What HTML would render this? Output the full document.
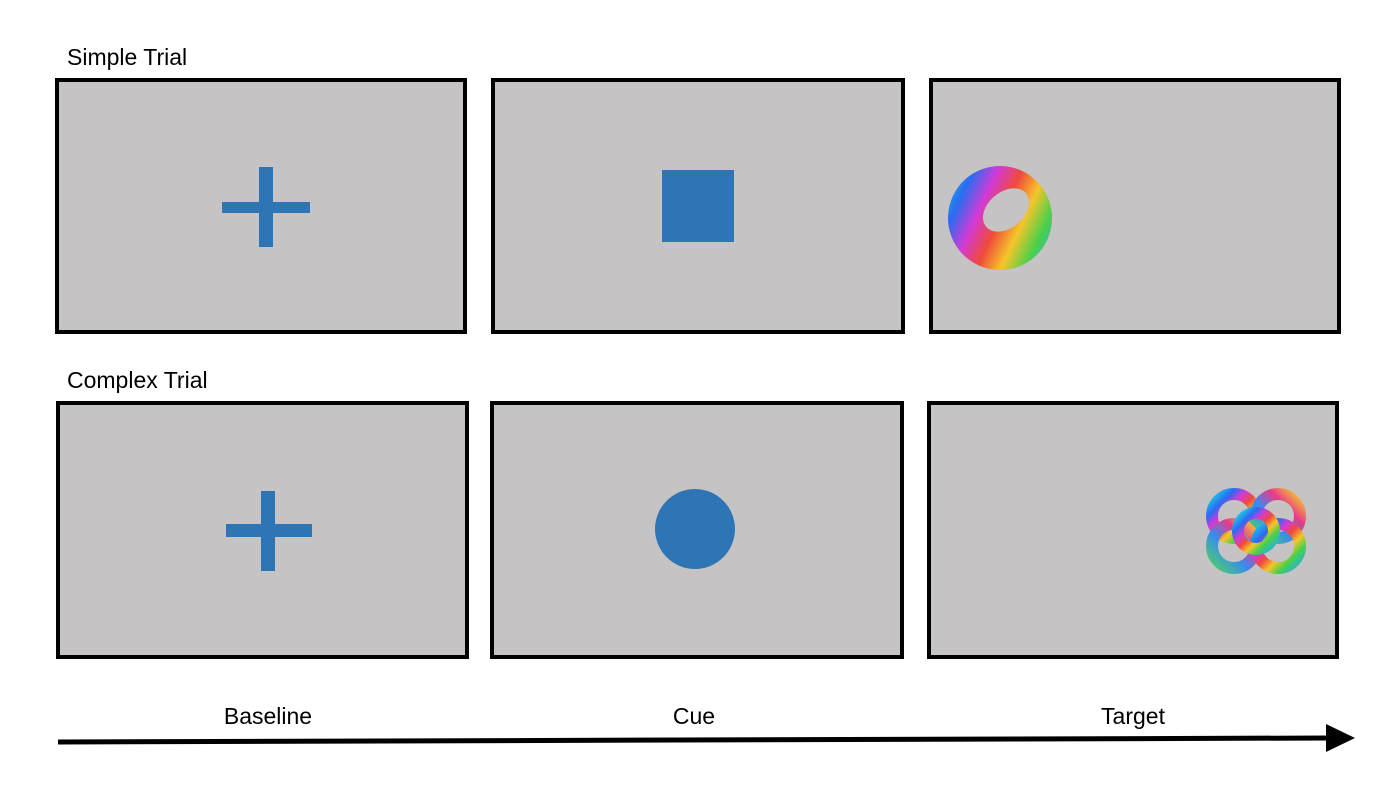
<!DOCTYPE html>
<html><head><meta charset="utf-8"><style>
body{margin:0;width:1395px;height:805px;background:#fff;overflow:hidden;font-family:"Liberation Sans",sans-serif;}
</style></head><body>
<svg width="1395" height="805" viewBox="0 0 1395 805" xmlns="http://www.w3.org/2000/svg">
<defs>
<linearGradient id="rb" x1="0" y1="0" x2="1" y2="1">
<stop offset="0" stop-color="#1fd1e8"/><stop offset="0.2" stop-color="#2a6cf0"/><stop offset="0.35" stop-color="#d23ad6"/><stop offset="0.5" stop-color="#f04a3a"/><stop offset="0.65" stop-color="#f5c52a"/><stop offset="0.8" stop-color="#4ad04a"/><stop offset="1" stop-color="#1fb0e8"/>
</linearGradient>
<linearGradient id="rb2" x1="1" y1="0" x2="0" y2="1">
<stop offset="0" stop-color="#f5d02a"/><stop offset="0.3" stop-color="#e83a8a"/><stop offset="0.6" stop-color="#3a8af0"/><stop offset="1" stop-color="#4ad06a"/>
</linearGradient>
</defs>
<text x="67" y="65" font-size="23" fill="#000">Simple Trial</text>
<text x="67" y="388" font-size="23" fill="#000">Complex Trial</text>

<g fill="#c5c3c4" stroke="#000" stroke-width="4">
<rect x="57" y="80" width="408" height="252"/>
<rect x="493" y="80" width="410" height="252"/>
<rect x="931" y="80" width="408" height="252"/>
<rect x="58" y="403" width="409" height="254"/>
<rect x="492" y="403" width="410" height="254"/>
<rect x="929" y="403" width="408" height="254"/>
</g>
<g fill="#2e75b6">
<g><rect x="222" y="202" width="88" height="11"/><rect x="259" y="167" width="14" height="80"/></g>
<rect x="662" y="170" width="72" height="72"/>
<g><rect x="226" y="524" width="86" height="13"/><rect x="261" y="491" width="14" height="80"/></g>
<circle cx="695" cy="529" r="40"/>
</g>
<g>
<ellipse cx="1000" cy="218" rx="52" ry="52" fill="url(#rb)" transform="rotate(-20 1000 218)"/>
<ellipse cx="1006" cy="210" rx="26" ry="18" fill="#c5c3c4" transform="rotate(-40 1006 210)"/>
</g>
<g fill="none" stroke-width="12">
<circle cx="1234" cy="516" r="22" stroke="url(#rb)"/>
<circle cx="1278" cy="516" r="22" stroke="url(#rb2)"/>
<circle cx="1234" cy="546" r="22" stroke="url(#rb2)"/>
<circle cx="1278" cy="546" r="22" stroke="url(#rb)"/>
<circle cx="1256" cy="531" r="18" stroke="url(#rb)"/>
</g>
<g font-size="23" fill="#000" text-anchor="middle">
<text x="268" y="724">Baseline</text>
<text x="694" y="724">Cue</text>
<text x="1133" y="724">Target</text>
</g>
<g>
<line x1="58" y1="742" x2="1330" y2="738" stroke="#000" stroke-width="5"/>
<polygon points="1326,724 1355,738 1326,752" fill="#000"/>
</g>
</svg>
</body></html>
